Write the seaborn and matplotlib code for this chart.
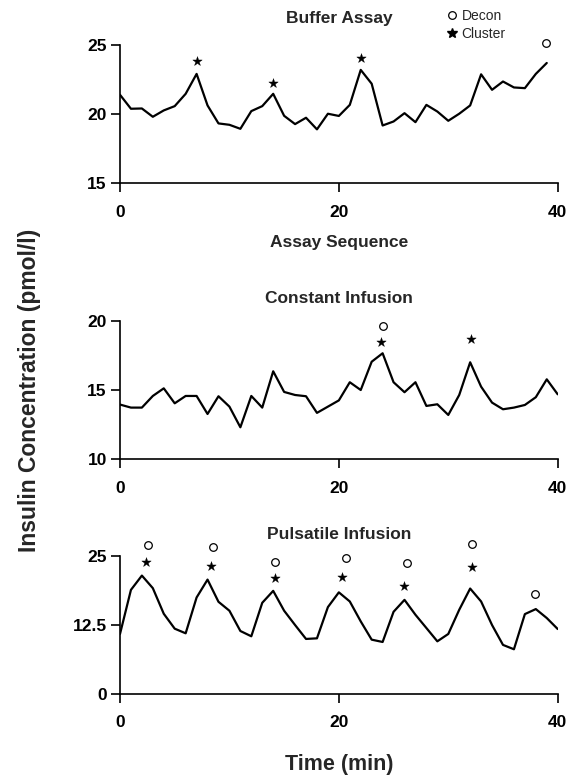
import numpy as np
import pandas as pd
import matplotlib
matplotlib.use("Agg")
import matplotlib.pyplot as plt
import seaborn as sns
from matplotlib.lines import Line2D

# ---------------- data ----------------
buffer_vals = [21.4, 20.39, 20.41, 19.81, 20.27, 20.58, 21.47, 22.91, 20.63, 19.33,
               19.23, 18.94, 20.22, 20.58, 21.47, 19.88, 19.28, 19.74, 18.9, 20.03,
               19.87, 20.67, 23.2, 22.2, 19.18, 19.47, 20.07, 19.42, 20.67, 20.19,
               19.52, 20.03, 20.63, 22.88, 21.76, 22.36, 21.93, 21.88, 22.91, 23.7]
buffer_cluster_x = [7, 14, 22]
buffer_cluster_y = [23.87, 22.28, 24.09]
buffer_decon_x = [38.9]
buffer_decon_y = [25.14]

constant_vals = [13.95, 13.73, 13.73, 14.57, 15.12, 14.04, 14.57, 14.57, 13.27, 14.55,
                 13.8, 12.31, 14.57, 13.73, 16.35, 14.86, 14.64, 14.55, 13.35, 13.8,
                 14.25, 15.56, 15.0, 17.04, 17.65, 15.56, 14.84, 15.56, 13.85, 13.97,
                 13.2, 14.64, 17.0, 15.24, 14.09, 13.61, 13.73, 13.92, 14.48, 15.77,
                 14.69]
constant_cluster_x = [23.85, 32.06]
constant_cluster_y = [18.44, 18.66]
constant_decon_x = [24.07]
constant_decon_y = [19.6]

pulsatile_vals = [10.82, 18.81, 21.4, 19.12, 14.48, 11.78, 10.94, 17.43, 20.67, 16.65,
                  15.03, 11.36, 10.4, 16.47, 18.63, 15.03, 12.44, 9.92, 10.03, 15.69,
                  18.36, 16.71, 13.1, 9.79, 9.37, 14.84, 17.0, 14.3, 11.9, 9.49,
                  10.82, 15.2, 19.05, 16.71, 12.44, 8.84, 8.05, 14.42, 15.33, 13.71,
                  11.72]
pulsatile_cluster_x = [2.35, 8.3, 14.17, 20.3, 25.99, 32.2]
pulsatile_cluster_y = [23.8, 23.14, 21.03, 21.22, 19.59, 22.9]
pulsatile_decon_x = [2.56, 8.47, 14.17, 20.66, 26.2, 32.2, 37.9]
pulsatile_decon_y = [26.9, 26.57, 23.92, 24.53, 23.62, 27.05, 18.09]

titles = ["Buffer Assay", "Constant Infusion", "Pulsatile Infusion"]
yticks_list = [[15, 20, 25], [10, 15, 20], [0, 12.5, 25]]
ytick_labels = [["15", "20", "25"], ["10", "15", "20"], ["0", "12.5", "25"]]
xticks = [0, 20, 40]
xtick_labels = ["0", "20", "40"]

# ---------------- style ----------------
sns.set_style("ticks")
plt.rcParams["font.family"] = ["Liberation Sans", "DejaVu Sans"]
plt.rcParams["font.weight"] = "bold"

fig = plt.figure(figsize=(5.72, 7.76), dpi=100)
W, H = 572, 776
positions = [(45, 183.3), (320.7, 459.3), (555.7, 693.7)]
left_px, right_px = 120, 557.7

series = [
    (buffer_vals, buffer_cluster_x, buffer_cluster_y, buffer_decon_x, buffer_decon_y),
    (constant_vals, constant_cluster_x, constant_cluster_y, constant_decon_x, constant_decon_y),
    (pulsatile_vals, pulsatile_cluster_x, pulsatile_cluster_y, pulsatile_decon_x, pulsatile_decon_y),
]
title_pads = [16, 12.5, 12]

axes = []
for k, ((top, bot), (vals, cx, cy, dx, dy)) in enumerate(zip(positions, series)):
    ax = fig.add_axes([left_px / W, 1 - bot / H, (right_px - left_px) / W, (bot - top) / H])
    axes.append(ax)
    df = pd.DataFrame({"t": np.arange(len(vals)), "v": vals})
    sns.lineplot(data=df, x="t", y="v", ax=ax, color="black", linewidth=1.6)
    dfc = pd.DataFrame({"x": cx, "y": cy})
    dfd = pd.DataFrame({"x": dx, "y": dy})
    sns.scatterplot(data=dfc, x="x", y="y", ax=ax, marker="*", s=50, color="black",
                    edgecolor="black", linewidth=0.3, clip_on=False, zorder=5)
    sns.scatterplot(data=dfd, x="x", y="y", ax=ax, marker="o", s=30, facecolor="white",
                    edgecolor="black", linewidth=0.9, clip_on=False, zorder=5)
    yt = yticks_list[k]
    ax.set_xlim(0, 40)
    ax.set_ylim(yt[0], yt[-1])
    ax.set_xticks(xticks)
    ax.set_xticklabels(xtick_labels)
    ax.set_yticks(yt)
    ax.set_yticklabels(ytick_labels[k])
    ax.set_xlabel("")
    ax.set_ylabel("")
    ax.set_title(titles[k], fontsize=12.5, fontweight="bold", pad=title_pads[k])
    sns.despine(ax=ax)
    for s in ["left", "bottom"]:
        ax.spines[s].set_linewidth(1.2)
        ax.spines[s].set_color("black")
    ax.tick_params(axis="both", direction="out", length=6.5, width=1.2,
                   labelsize=12.5, color="black", labelcolor="black")
    ax.tick_params(axis="x", pad=9)
    ax.tick_params(axis="y", pad=3)
    for lab in ax.get_xticklabels() + ax.get_yticklabels():
        lab.set_fontweight("bold")

axes[0].set_xlabel("Assay Sequence", fontsize=12.5, fontweight="bold", labelpad=11)
axes[2].set_xlabel("Time (min)", fontsize=15.5, fontweight="bold", labelpad=17)
fig.text(30 / W, 1 - 390 / H, "Insulin Concentration (pmol/l)", rotation=90,
         ha="center", va="center", fontsize=16.5, fontweight="bold")

handles = [
    Line2D([], [], linestyle="none", marker="o", markersize=5.5, markerfacecolor="white",
           markeredgecolor="black", markeredgewidth=0.9),
    Line2D([], [], linestyle="none", marker="*", markersize=7.5, markerfacecolor="black",
           markeredgecolor="black"),
]
fig.legend(handles, ["Decon", "Cluster"], loc="upper left",
           bbox_to_anchor=(433 / W, 1 + 4 / H), frameon=False,
           handletextpad=0.15, handlelength=1.0, labelspacing=0.3,
           prop={"family": ["Liberation Sans"], "weight": "normal", "size": 10})

fig.savefig("out.png", dpi=100)
